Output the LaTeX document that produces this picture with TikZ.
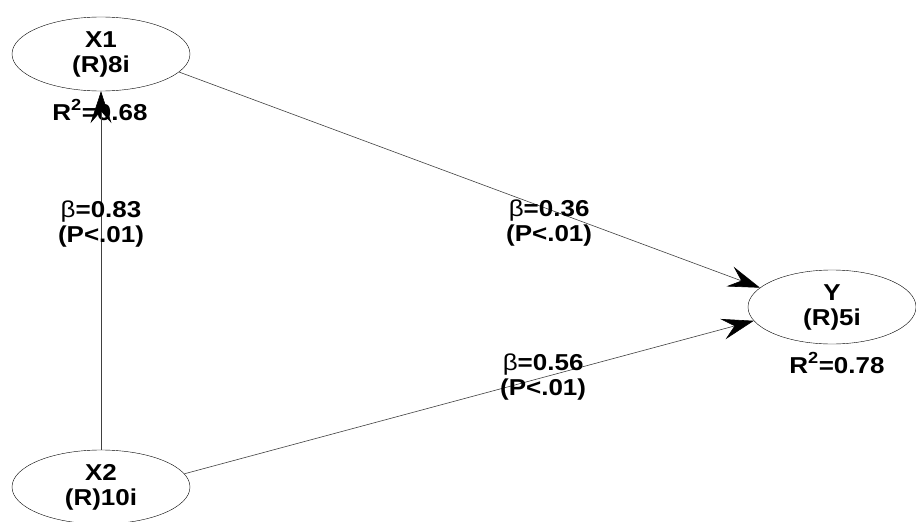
\documentclass[tikz,border=0pt]{standalone}
\usepackage{fontspec}
\setmainfont{Liberation Sans}[FakeStretch=1.13]
\usetikzlibrary{arrows.meta,shapes.geometric}

\begin{document}
\begin{tikzpicture}[x=1pt,y=-1pt,
  font=\fontsize{23}{25}\selectfont\bfseries,
  latent/.style={draw, ellipse, thin, inner sep=0pt, align=center, minimum width=178pt, minimum height=74pt},
  effect/.style={draw=black!75, semithick, -{Stealth[length=32pt, width=21pt, inset=12pt, black]}},
  coef/.style={align=center, inner sep=1pt}]
\useasboundingbox (0,0) rectangle (916,522);
% latent variables:
\node[latent] (x1) at (101,54) {X1\\(R)8i};
\node[latent] (x2) at (101,487) {X2\\(R)10i};
\node[latent, minimum width=168pt] (y) at (832,307) {Y\\(R)5i};
% explained variance:
\node (r2x1) at (100,110) {R\textsuperscript{2}=0.68};
\node (r2y) at (837,363) {R\textsuperscript{2}=0.78};
% paths:
\draw[effect] (x2.90) -- (x1.-90) node[coef, pos=0.63] {{\mdseries β}=0.83\\(P<.01)};
\draw[effect] (x1.-13.5) -- (y.165.6) node[coef, pos=0.637, yshift=-14pt] {{\mdseries β}=0.36\\(P<.01)};
\draw[effect] (x2.9.9) -- (y.190) node[coef, pos=0.63] {{\mdseries β}=0.56\\(P<.01)};
\end{tikzpicture}
\end{document}
